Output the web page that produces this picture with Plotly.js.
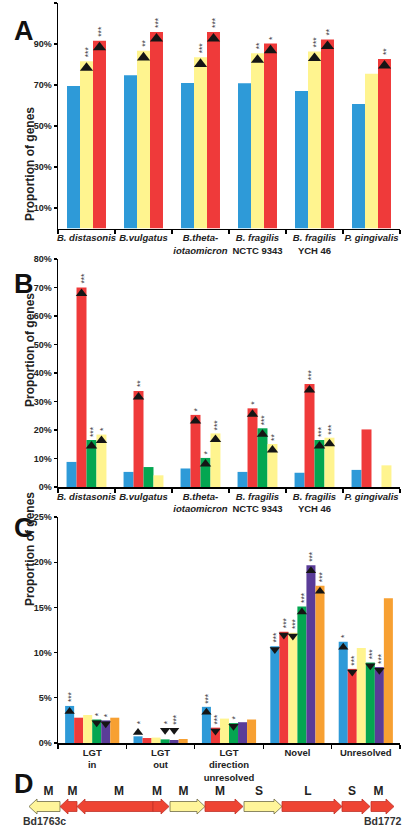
<!DOCTYPE html>
<html><head><meta charset="utf-8">
<script src="https://cdn.plot.ly/plotly-3.0.1.min.js"></script>
<style>html,body{margin:0;padding:0;background:#fff}#chart{width:402px;height:827px}</style>
</head><body><div id="chart"></div>
<script>
// ---------- DATA ----------
const speciesLabels = ['<i>B. distasonis</i>', '<i>B.vulgatus</i>', '<i>B.theta-</i><br><i>iotaomicron</i>', '<i>B. fragilis</i><br>NCTC 9343', '<i>B. fragilis</i><br>YCH 46', '<i>P. gingivalis</i>'];

// Panel A
const aBlue   = [69.5, 74.7, 71.0, 70.8, 67.1, 60.7];
const aYellow = [81.6, 86.7, 83.5, 85.5, 86.4, 75.5];
const aRed    = [91.6, 95.9, 95.9, 90.2, 92.2, 82.7];
const aBlueSig   = ['', '', '', '', '', ''];
const aYellowSig = ['***', '**', '***', '**', '***', ''];
const aRedSig    = ['***', '***', '***', '*', '**', '**'];
const aTicks = [10, 30, 50, 70, 90, 110];

// Panel B
const bBlue   = [8.8, 5.3, 6.5, 5.3, 5.0, 6.0];
const bRed    = [70.0, 33.7, 25.3, 27.6, 36.1, 20.2];
const bGreen  = [16.5, 7.0, 10.2, 20.6, 16.5, 0];
const bYellow = [18.4, 4.1, 18.8, 15.1, 17.3, 7.6];
const bBlueSig   = ['', '', '', '', '', ''];
const bRedSig    = ['***', '**', '*', '*', '***', ''];
const bGreenSig  = ['***', '', '*', '***', '***', ''];
const bYellowSig = ['*', '', '***', '**', '***', ''];
const bTicks = [0, 10, 20, 30, 40, 50, 60, 70, 80];

// Panel C
const cLabels = ['LGT<br>in', 'LGT<br>out', 'LGT<br>direction<br>unresolved', 'Novel', 'Unresolved'];
const cBlue   = [4.1, 0.74, 4.0, 10.7, 11.2];
const cRed    = [2.8, 0.55, 1.7, 12.3, 8.2];
const cYellow = [3.1, 0.6, 2.7, 12.2, 10.5];
const cGreen  = [2.6, 0.4, 2.2, 15.1, 8.9];
const cPurple = [2.5, 0.33, 2.3, 19.65, 8.4];
const cOrange = [2.8, 0.44, 2.6, 17.4, 16.0];
const cBlueSig   = ['***', '*', '***', '***', '*'];
const cRedSig    = ['', '', '***', '***', '***'];
const cYellowSig = ['', '', '', '***', ''];
const cGreenSig  = ['*', '*', '*', '***', '***'];
const cPurpleSig = ['*', '***', '', '***', '***'];
const cOrangeSig = ['', '', '', '***', ''];
// direction of change: u = over-represented, d = under-represented
const cBlueDir   = ['u', 'u', 'u', 'd', 'u'];
const cRedDir    = ['', '', 'd', 'd', 'd'];
const cYellowDir = ['', '', '', 'd', ''];
const cGreenDir  = ['d', 'd', 'd', 'u', 'd'];
const cPurpleDir = ['d', 'd', '', 'u', 'd'];
const cOrangeDir = ['', '', '', 'u', ''];
const cTicks = [0, 5, 10, 15, 20, 25];

// Panel D (gene map)
const geneStart  = [29, 60, 77, 153, 170, 205, 244, 282, 342, 371];
const geneEnd    = [60, 77, 153, 169, 205, 243, 282, 342, 370, 394];
const geneStrand = [-1, -1, -1, 1, 1, 1, 1, 1, 1, 1];
const geneKind   = ['y', 'r', 'r', 'r', 'y', 'r', 'y', 'r', 'r', 'r'];
const geneClass  = ['M', 'M', 'M', 'M', 'M', 'M', 'S', 'L', 'S', 'M'];
const geneNameFirst = 'Bd1763c';
const geneNameLast = 'Bd1772';

// ---------- STYLE ----------
const FONT = 'Liberation Sans, Arial, sans-serif';
const COL = {blue: '#2e9ad8', yellow: '#fff48f', red: '#ef3a3a', green: '#04a651', purple: '#5a3c98', orange: '#f7a032'};
const TXT = '#222';

const traces = [];
const annotations = [];

function panel(series, xa, ya, barW, triSize, pxPerUnit, smallTriBottom) {
  const n = series.length;
  series.forEach((s, j) => {
    const xs = s.v.map((_, i) => i + (j - (n - 1) / 2) * barW);
    traces.push({type: 'bar', x: xs, y: s.v, width: barW, marker: {color: s.c, line: {width: 0}},
      xaxis: xa, yaxis: ya, hoverinfo: 'skip'});
    const up = {x: [], y: []}, dn = {x: [], y: []};
    s.sig.forEach((sg, i) => {
      const dir = s.dir ? s.dir[i] : (sg ? 'u' : '');
      if (!dir) return;
      const v = s.v[i];
      const r = triSize / 2;
      let cy, triTopPx;
      const inside = v * pxPerUnit > triSize * 1.5;
      if (inside) {
        if (dir === 'u') { cy = v - (r + 1) / pxPerUnit; }
        else { cy = v - (r / 2 + 1) / pxPerUnit; }
        triTopPx = v * pxPerUnit;
      } else {
        const bottom = smallTriBottom;
        if (dir === 'u') { cy = bottom + (r / 2) / pxPerUnit; triTopPx = cy * pxPerUnit + r; }
        else { cy = bottom + r / pxPerUnit; triTopPx = cy * pxPerUnit + r / 2; }
      }
      const tgt = dir === 'u' ? up : dn;
      tgt.x.push(xs[i]); tgt.y.push(cy);
      if (sg) {
        annotations.push({xref: xa, yref: ya, x: xs[i], y: triTopPx / pxPerUnit, yanchor: 'bottom', xanchor: 'center',
          yshift: 1.5, xshift: 1.5, text: sg, textangle: -90, showarrow: false,
          font: {family: FONT, size: 8.5, color: '#444'}});
      }
    });
    [[up, 'triangle-up'], [dn, 'triangle-down']].forEach(([p, sym]) => {
      if (p.x.length) traces.push({type: 'scatter', mode: 'markers', x: p.x, y: p.y, xaxis: xa, yaxis: ya,
        marker: {symbol: sym, size: triSize, color: '#151515', line: {width: 0}}, hoverinfo: 'skip', cliponaxis: false});
    });
  });
}

panel([
  {v: aBlue, c: COL.blue, sig: aBlueSig},
  {v: aYellow, c: COL.yellow, sig: aYellowSig},
  {v: aRed, c: COL.red, sig: aRedSig}
], 'x', 'y', 0.228, 11.5, 225.5 / 110, 0);

panel([
  {v: bBlue, c: COL.blue, sig: bBlueSig},
  {v: bRed, c: COL.red, sig: bRedSig},
  {v: bGreen, c: COL.green, sig: bGreenSig},
  {v: bYellow, c: COL.yellow, sig: bYellowSig}
], 'x2', 'y2', 0.175, 10, 228 / 80, 0);

panel([
  {v: cBlue, c: COL.blue, sig: cBlueSig, dir: cBlueDir},
  {v: cRed, c: COL.red, sig: cRedSig, dir: cRedDir},
  {v: cYellow, c: COL.yellow, sig: cYellowSig, dir: cYellowDir},
  {v: cGreen, c: COL.green, sig: cGreenSig, dir: cGreenDir},
  {v: cPurple, c: COL.purple, sig: cPurpleSig, dir: cPurpleDir},
  {v: cOrange, c: COL.orange, sig: cOrangeSig, dir: cOrangeDir}
], 'x3', 'y3', 0.132, 9, 226 / 25, 0.9);

// Gene arrows
const HEAD = 8, BODY = 5, HEADW = 7.5;
geneStart.forEach((s, i) => {
  const e = geneEnd[i];
  let xs, ys;
  if (geneStrand[i] > 0) {
    const b = e - HEAD;
    xs = [s, b, b, e, b, b, s, s]; ys = [-BODY, -BODY, -HEADW, 0, HEADW, BODY, BODY, -BODY];
  } else {
    const b = s + HEAD;
    xs = [e, b, b, s, b, b, e, e]; ys = [-BODY, -BODY, -HEADW, 0, HEADW, BODY, BODY, -BODY];
  }
  const yel = geneKind[i] === 'y';
  traces.push({type: 'scatter', mode: 'lines', x: xs, y: ys, fill: 'toself', xaxis: 'x4', yaxis: 'y4',
    fillcolor: yel ? '#fff59a' : '#ee4433', line: {color: yel ? '#6e6b45' : '#c0322a', width: 0.8},
    hoverinfo: 'skip', cliponaxis: false});
});
// gene class labels over the gene body
const lblX = geneStart.map((s, i) => geneStrand[i] > 0 ? (s + geneEnd[i] - HEAD) / 2 : (s + HEAD + geneEnd[i]) / 2);
traces.push({type: 'scatter', mode: 'text', x: lblX, y: lblX.map(() => 14.5), text: geneClass,
  xaxis: 'x4', yaxis: 'y4', textfont: {family: FONT, size: 12, color: TXT, weight: 'bold'}, cliponaxis: false, hoverinfo: 'skip'});
annotations.push({xref: 'x4', yref: 'y4', x: (geneStart[0] + geneEnd[0]) / 2, y: -14.2, text: geneNameFirst, showarrow: false,
  font: {family: FONT, size: 10.5, color: '#333', weight: 'bold'}});
annotations.push({xref: 'x4', yref: 'y4', x: (geneStart[9] + geneEnd[9]) / 2, y: -14.2, text: geneNameLast, showarrow: false,
  font: {family: FONT, size: 10.5, color: '#333', weight: 'bold'}});

// Panel letters & y titles
[['A', 14], ['B', 267], ['C', 528], ['D', 801]].forEach(([t, py]) => {
  annotations.push({xref: 'paper', yref: 'paper', x: 12 / 402, y: 1 - py / 827, text: t, showarrow: false,
    font: {family: FONT, size: 27, color: '#111', weight: 'bold'}});
});
[105, 350, 608].forEach(py => {
  annotations.push({xref: 'paper', yref: 'paper', x: 21 / 402, y: 1 - py / 827, text: 'Proportion of genes', textangle: -90,
    showarrow: false, font: {family: FONT, size: 12, color: TXT, weight: 'bold'}});
});

function xax(labels, n) {
  return {domain: [58 / 402, 400 / 402], range: [-0.5, n - 0.5], tickmode: 'array', tickvals: labels.map((_, i) => i),
    ticktext: labels, ticks: '', tickangle: 0, showline: true, linecolor: '#000', linewidth: 1.5, showgrid: false, zeroline: false,
    tickfont: {family: FONT, size: 9.5, color: TXT, weight: 'bold'}, fixedrange: true,
    minor: {tickmode: 'linear', tick0: 0.5, dtick: 1, ticks: 'outside', ticklen: 4, tickcolor: '#000', tickwidth: 1.2, showgrid: false}};
}
function yax(dom, range, tickvals) {
  return {domain: dom, range: range, tickmode: 'array', tickvals: tickvals, ticktext: tickvals.map(v => v + '%'),
    ticks: 'outside', ticklen: 3,
    tickcolor: '#000', tickwidth: 1.2, showline: true, linecolor: '#000', linewidth: 1.5, showgrid: false, zeroline: false,
    tickfont: {family: FONT, size: 9, color: TXT, weight: 'bold'}, fixedrange: true};
}

const layout = {
  width: 402, height: 827, margin: {l: 0, r: 0, t: 0, b: 0}, paper_bgcolor: '#fff', plot_bgcolor: '#fff',
  showlegend: false, barmode: 'overlay', font: {family: FONT},
  xaxis: Object.assign(xax(speciesLabels, 6), {anchor: 'y'}),
  yaxis: Object.assign(yax([1 - 228.5 / 827, 1 - 3 / 827], [0, 110], aTicks), {anchor: 'x'}),
  xaxis2: Object.assign(xax(speciesLabels, 6), {anchor: 'y2'}),
  yaxis2: Object.assign(yax([1 - 487 / 827, 1 - 259 / 827], [0, 80], bTicks), {anchor: 'x2'}),
  xaxis3: Object.assign(xax(cLabels, 5), {anchor: 'y3'}),
  yaxis3: Object.assign(yax([1 - 743 / 827, 1 - 517 / 827], [0, 25], cTicks), {anchor: 'x3'}),
  xaxis4: {domain: [0, 1], range: [0, 402], visible: false, anchor: 'y4', fixedrange: true},
  yaxis4: {domain: [0, 1 - 779 / 827], range: [-20.5, 27.5], visible: false, anchor: 'x4', fixedrange: true},
  annotations: annotations
};

Plotly.newPlot('chart', traces, layout, {staticPlot: true, displayModeBar: false});
</script></body></html>
